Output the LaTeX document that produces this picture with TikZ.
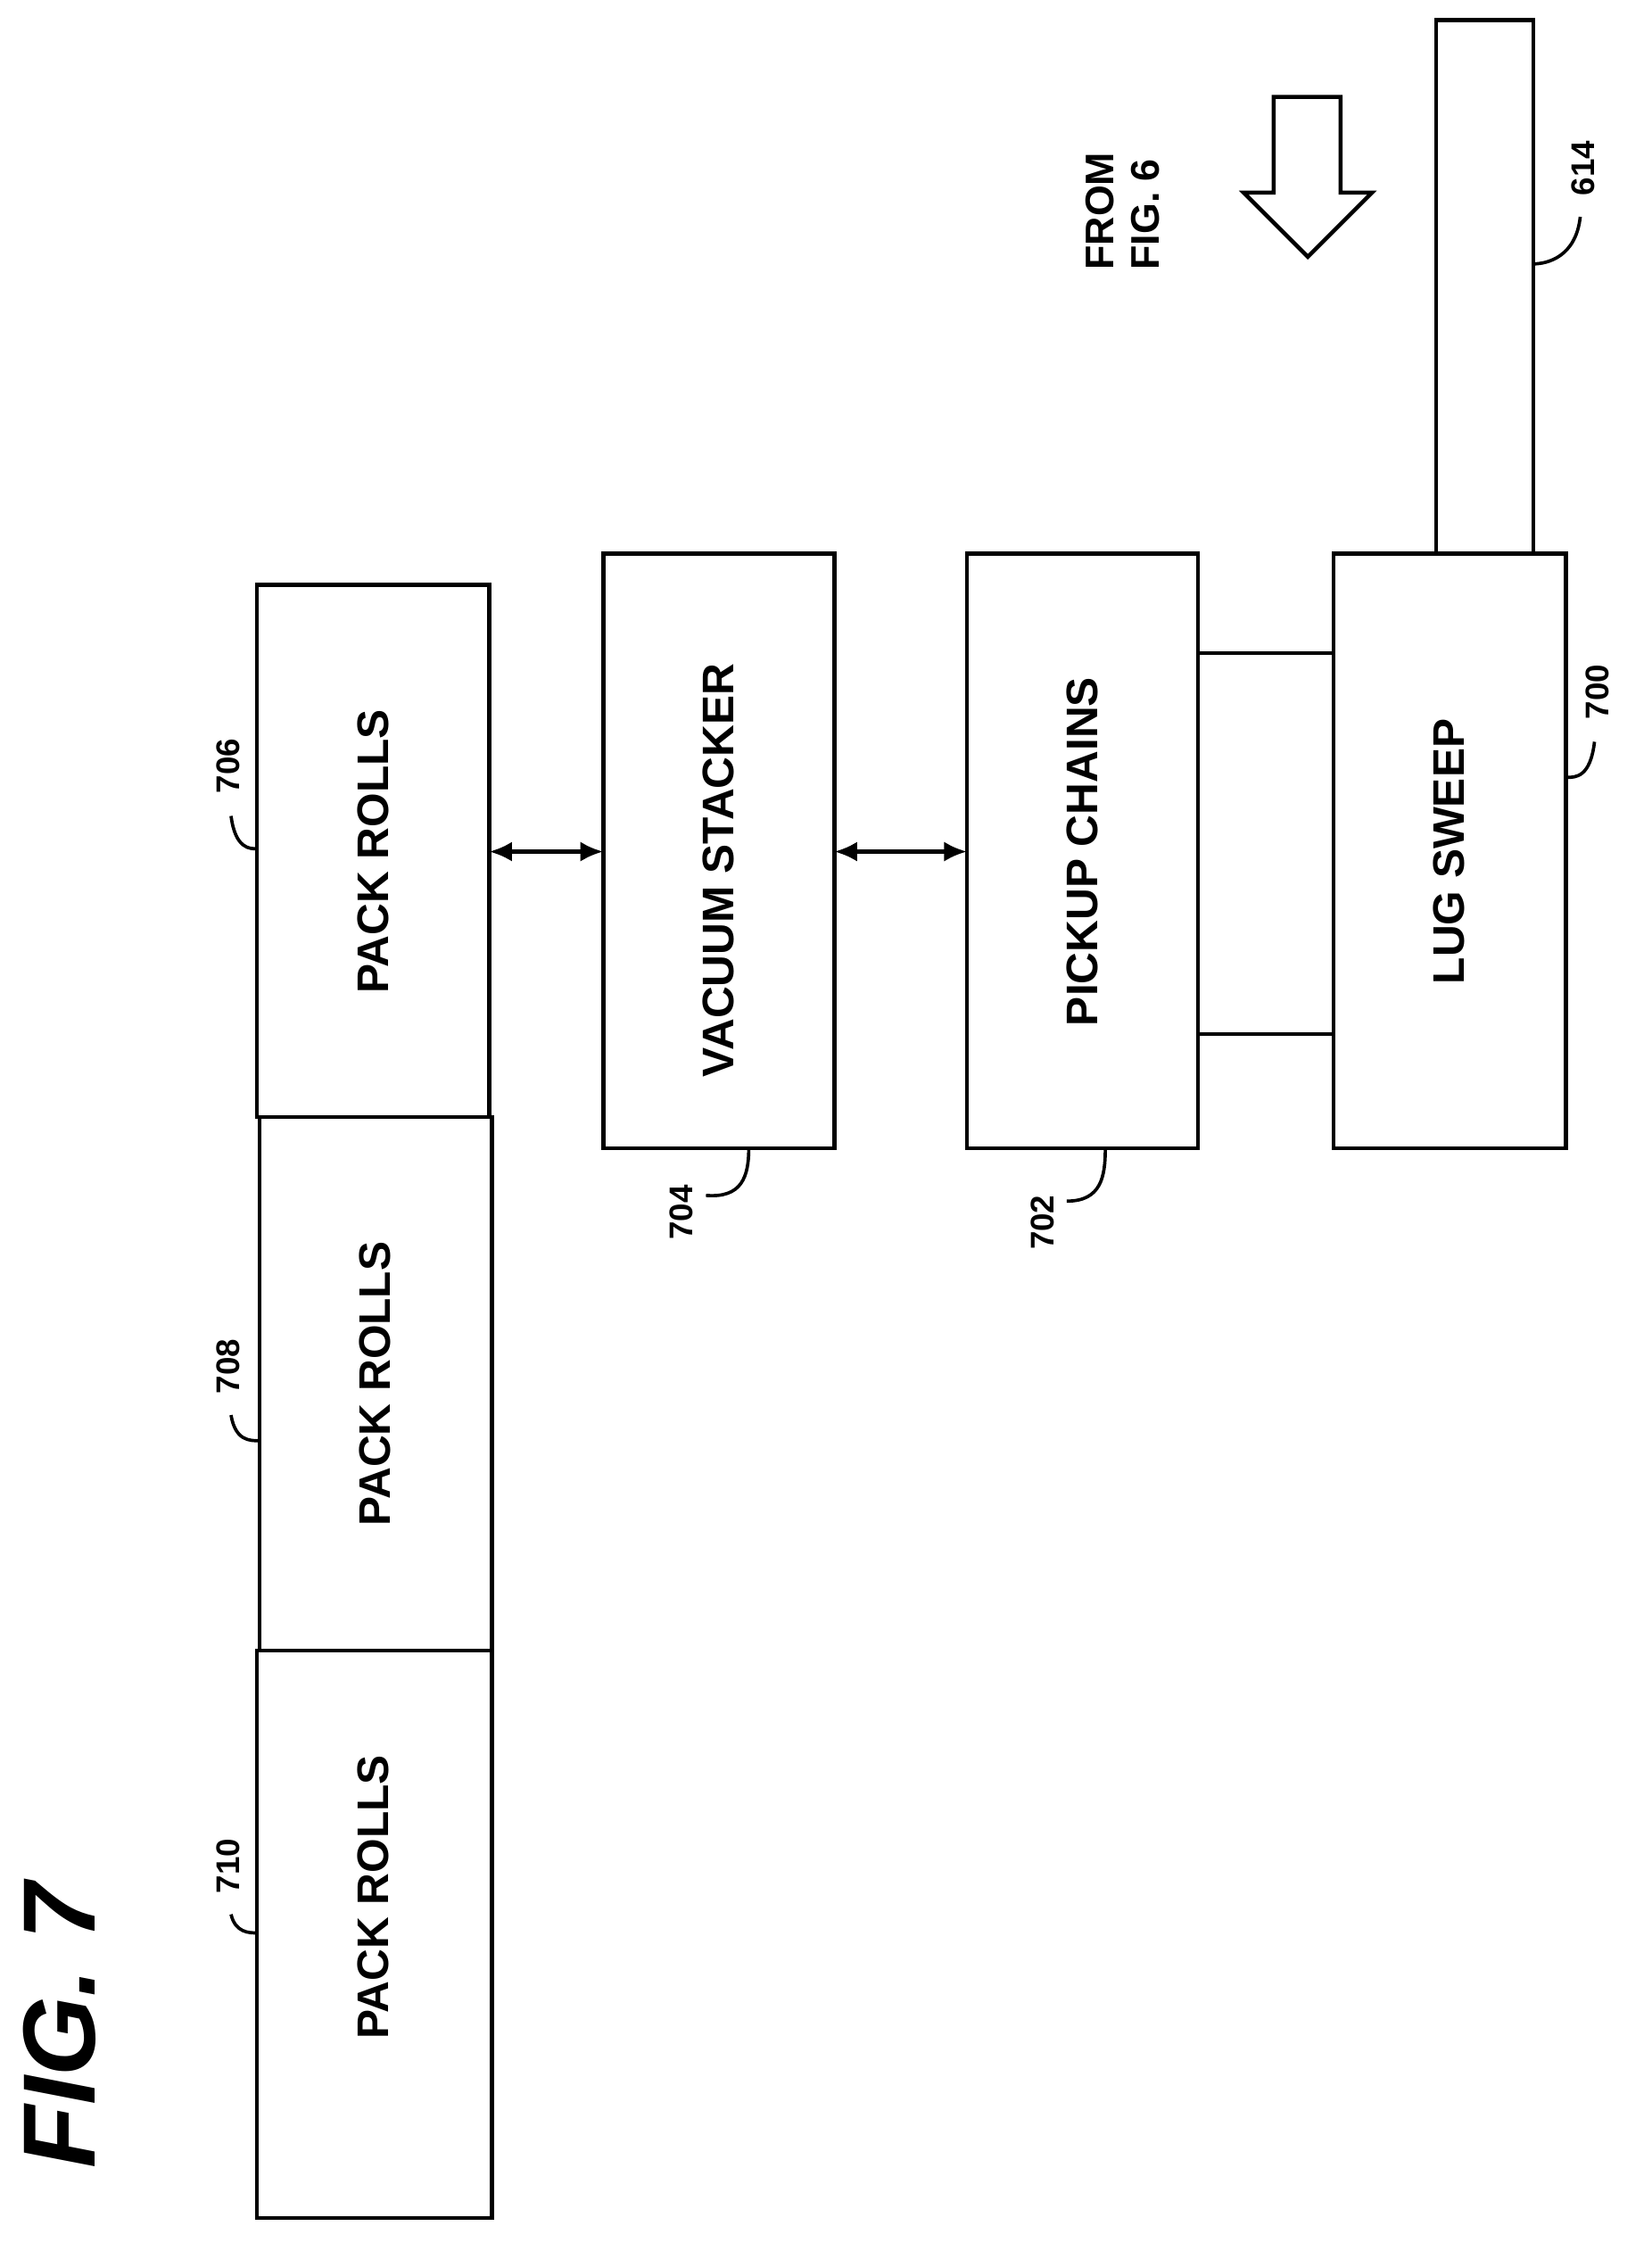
\documentclass[tikz,border=0pt]{standalone}
\usepackage{fontspec}
\setmainfont{Liberation Sans}
\usetikzlibrary{arrows.meta}
\begin{document}
\begin{tikzpicture}[x=1pt,y=-1pt,
 box/.style={draw,line width=2.8pt,inner sep=0},
 lbl/.style={font=\bfseries\fontsize{31}{36}\selectfont,rotate=90},
 num/.style={font=\bfseries\fontsize{23}{26}\selectfont,rotate=90},
 ld/.style={line width=2.3pt},
 dbl/.style={line width=2.8pt,{Latex[length=16pt,width=14pt]}-{Latex[length=16pt,width=14pt]}}]
\useasboundingbox[fill=white] (0,0) rectangle (1158,1578);
\draw[box] (180,410) rectangle (343,783);
\node[lbl] (pr1) at (262,597) {PACK ROLLS};
\draw[box] (182,783) rectangle (345,1157);
\node[lbl] (pr2) at (263,970) {PACK ROLLS};
\draw[box] (180,1157) rectangle (345,1555);
\node[lbl] (pr3) at (262,1330) {PACK ROLLS};
\draw[box] (423,388) rectangle (585,805);
\node[lbl] (vs) at (504,610) {VACUUM STACKER};
\draw[box] (678,388) rectangle (840,805);
\node[lbl] (pc) at (759,597) {PICKUP CHAINS};
\draw[box] (935,388) rectangle (1098,805);
\node[lbl] (ls) at (1016,597) {LUG SWEEP};
\draw[box] (1007,14) rectangle (1075,388);
\draw[ld] (840,458) -- (935,458);
\draw[ld] (840,725) -- (935,725);
\coordinate (a1) at (343,597); \coordinate (a2) at (423,597);
\coordinate (b1) at (585,597); \coordinate (b2) at (678,597);
\draw[dbl] (a1) -- (a2);
\draw[dbl] (b1) -- (b2);
\draw[line width=2.8pt,line join=miter] (893,68) -- (940,68) -- (940,135) -- (962,135) -- (917,180) -- (872,135) -- (893,135) -- cycle;
\node[rotate=90,font=\bfseries\fontsize{28}{32}\selectfont,align=left] (from) at (787,148) {FROM\\FIG. 6};
\node[rotate=90,font=\bfseries\itshape\fontsize{72}{80}\selectfont] (fig) at (42,1420) {FIG. 7};
\node[num] (n706) at (160,537) {706};
\draw[ld] (162,572) .. controls (165,595) and (175,595) .. (180,595);
\node[num] (n708) at (160,958) {708};
\draw[ld] (162,992) .. controls (165,1010) and (175,1010) .. (182,1010);
\node[num] (n710) at (160,1308) {710};
\draw[ld] (162,1342) .. controls (165,1355) and (175,1355) .. (180,1355);
\node[num] (n704) at (478,850) {704};
\draw[ld] (495,838) .. controls (520,840) and (525,825) .. (525,805);
\node[num] (n702) at (731,857) {702};
\draw[ld] (748,842) .. controls (772,842) and (775,825) .. (775,805);
\node[num] (n700) at (1120,485) {700};
\draw[ld] (1118,520) .. controls (1115,545) and (1105,545) .. (1098,545);
\node[num] (n614) at (1110,118) {614};
\draw[ld] (1108,152) .. controls (1105,180) and (1085,185) .. (1075,185);
\end{tikzpicture}
\end{document}
